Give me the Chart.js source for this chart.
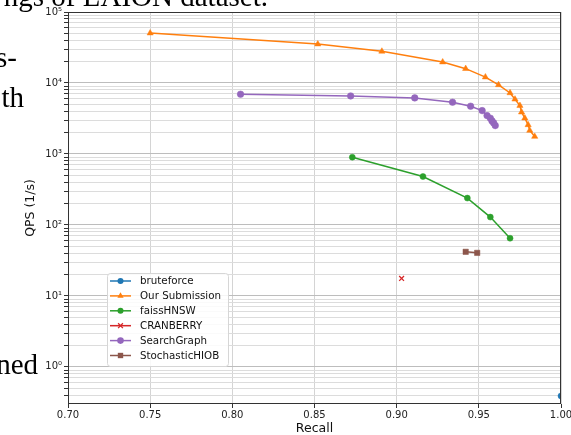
<!DOCTYPE html>
<html>
<head>
<meta charset="utf-8">
<script src="https://cdn.jsdelivr.net/npm/chart.js@4.4.0/dist/chart.umd.min.js"></script>
<style>
  html, body { margin: 0; padding: 0; background: #fff; overflow: hidden; }
  #wrap { position: relative; width: 571px; height: 435px; }
  .doc { position: absolute; font-family: "Liberation Serif", serif; font-size: 29px; line-height: 29px; color: #000; white-space: nowrap; }
</style>
</head>
<body>
<div id="wrap">
  <canvas id="mycanvas" width="571" height="435"></canvas>
  <div class="doc" style="right:303px; top:-18px;">ngs of LAION dataset.</div>
  <div class="doc" style="right:554px; top:43px;">s-</div>
  <div class="doc" style="right:547px; top:83px;">th</div>
  <div class="doc" style="right:533px; top:350px;">ned</div>
</div>
<script>
// values
var seriesNames = ["bruteforce", "Our Submission", "faissHNSW", "CRANBERRY", "SearchGraph", "StochasticHIOB"];
var seriesColors = ["#1f77b4", "#ff7f0e", "#2ca02c", "#d62728", "#9467bd", "#8c564b"];
var seriesMarkers = ["circle", "triangle", "circle", "crossRot", "circle", "rect"];
var markerSizes = [3, 3.6, 3, 3.4, 3.3, 3.8];

var bruteRecall = [1.0];
var bruteQps = [0.39];

var oursRecall = [0.750, 0.852, 0.891, 0.928, 0.942, 0.954, 0.962, 0.969, 0.972, 0.975, 0.976, 0.978, 0.980, 0.981, 0.984];
var oursQps = [50400, 35300, 27900, 19700, 15900, 12100, 9400, 7240, 5900, 4800, 3880, 3190, 2570, 2140, 1760];

var faissRecall = [0.873, 0.916, 0.943, 0.957, 0.969];
var faissQps = [900, 481, 239, 129, 65];

var cranRecall = [0.903];
var cranQps = [17.6];

var sgRecall = [0.805, 0.872, 0.911, 0.934, 0.945, 0.952, 0.955, 0.957, 0.958, 0.959, 0.960];
var sgQps = [6940, 6570, 6160, 5360, 4710, 4080, 3470, 3190, 2920, 2740, 2510];

var hiobRecall = [0.942, 0.949];
var hiobQps = [41.8, 40.4];

var xTickValues = [0.70, 0.75, 0.80, 0.85, 0.90, 0.95, 1.00];
var yTickValues = [1, 10, 100, 1000, 10000, 100000];
var yTickLabels = ["10\u2070", "10\u00b9", "10\u00b2", "10\u00b3", "10\u2074", "10\u2075"];

var allRecall = [bruteRecall, oursRecall, faissRecall, cranRecall, sgRecall, hiobRecall];
var allQps = [bruteQps, oursQps, faissQps, cranQps, sgQps, hiobQps];

function pairUp(xs, ys) {
    var pts = [];
    for (var i in xs) {
        pts.push({x: xs[i], y: ys[i]});
    }
    return pts;
}

var datasets = [];
for (var i in seriesNames) {
    datasets.push({
        label: seriesNames[i],
        data: pairUp(allRecall[i], allQps[i]),
        borderColor: seriesColors[i],
        backgroundColor: seriesColors[i],
        pointBorderColor: seriesColors[i],
        pointBackgroundColor: seriesColors[i],
        borderWidth: 1.5,
        pointStyle: seriesMarkers[i],
        pointRadius: markerSizes[i],
        pointBorderWidth: seriesMarkers[i] == "crossRot" ? 1.3 : 0.5,
        pointHoverRadius: markerSizes[i],
        fill: false,
        tension: 0
    });
}

// minor grid positions for the log axis
function logGridValues(min, max) {
    var vals = [];
    for (var e = -1; e <= 5; e++) {
        for (var m = 1; m <= 9; m++) {
            var v = m * Math.pow(10, e);
            if (v >= min && v <= max * 1.0001) vals.push(v);
        }
    }
    return vals;
}

function isDecade(v) {
    for (var i in yTickValues) {
        if (Math.abs(v - yTickValues[i]) / yTickValues[i] < 1e-6) return i;
    }
    return -1;
}

function drawMarker(ctx, style, x, y, r, color) {
    ctx.save();
    ctx.fillStyle = color;
    ctx.strokeStyle = color;
    ctx.lineWidth = 1.3;
    ctx.beginPath();
    if (style == "circle") {
        ctx.arc(x, y, r, 0, Math.PI * 2);
        ctx.fill();
    } else if (style == "triangle") {
        ctx.moveTo(x, y - r);
        ctx.lineTo(x + r * Math.sin(Math.PI / 3), y + r * 0.5);
        ctx.lineTo(x - r * Math.sin(Math.PI / 3), y + r * 0.5);
        ctx.closePath();
        ctx.fill();
    } else if (style == "rect") {
        var s = r * Math.SQRT1_2;
        ctx.rect(x - s, y - s, 2 * s, 2 * s);
        ctx.fill();
    } else if (style == "crossRot") {
        var d = r * Math.SQRT1_2;
        ctx.moveTo(x - d, y - d); ctx.lineTo(x + d, y + d);
        ctx.moveTo(x + d, y - d); ctx.lineTo(x - d, y + d);
        ctx.stroke();
    }
    ctx.restore();
}

var boxAndLegend = {
    id: "boxAndLegend",
    afterDatasetsDraw: function(chart) {
        var ctx = chart.ctx;
        var a = chart.chartArea;
        ctx.save();
        ctx.strokeStyle = "#333";
        ctx.lineWidth = 1;
        ctx.strokeRect(Math.round(a.left) + 0.5, Math.round(a.top) + 0.5, Math.round(a.right - a.left) - 1, Math.round(a.bottom - a.top) - 1);

        // legend
        var lx = 107, ly = 273, lw = 121, lh = 93;
        ctx.fillStyle = "rgba(255,255,255,0.85)";
        ctx.strokeStyle = "#d6d6d6";
        ctx.beginPath();
        ctx.roundRect(lx + 0.5, ly + 0.5, lw, lh, 3);
        ctx.fill();
        ctx.stroke();
        ctx.font = "10.3px 'DejaVu Sans'";
        ctx.textBaseline = "middle";
        ctx.textAlign = "left";
        var ds = chart.data.datasets;
        for (var i = 0; i < ds.length; i++) {
            var yy = 281 + i * 14.9;
            ctx.strokeStyle = ds[i].borderColor;
            ctx.lineWidth = 1.5;
            ctx.beginPath();
            ctx.moveTo(110, yy);
            ctx.lineTo(131, yy);
            ctx.stroke();
            drawMarker(ctx, ds[i].pointStyle, 120.5, yy, ds[i].pointRadius, ds[i].borderColor);
            ctx.fillStyle = "#111";
            ctx.fillText(ds[i].label, 140, yy + 0.5);
        }
        ctx.restore();
    }
};

var ctx = document.getElementById("mycanvas");

var qpsChart = new Chart(ctx, {
    type: "line",
    data: { datasets: datasets },
    plugins: [boxAndLegend],
    options: {
        responsive: false,
        animation: false,
        layout: { padding: { top: 12, right: 10, left: 0, bottom: 0 } },
        plugins: {
            legend: { display: false },
            tooltip: { enabled: false }
        },
        scales: {
            x: {
                type: "linear",
                min: 0.70,
                max: 1.00,
                afterBuildTicks: function(scale) {
                    scale.ticks = xTickValues.map(function(v) { return {value: v}; });
                },
                afterFit: function(scale) {
                    scale.height = 31;
                    scale.paddingLeft = 0;
                    scale.paddingRight = 0;
                },
                ticks: {
                    autoSkip: false,
                    maxRotation: 0,
                    padding: 1,
                    color: "#222",
                    font: { family: "DejaVu Sans", size: 10 },
                    callback: function(v) { return Number(v).toFixed(2); }
                },
                grid: {
                    color: "#d4d4d4",
                    lineWidth: 1,
                    tickLength: 4,
                    tickColor: "#333"
                },
                border: { display: false },
                title: {
                    display: true,
                    text: "Recall",
                    color: "#111",
                    font: { family: "DejaVu Sans", size: 12.5 },
                    padding: { top: 0, bottom: -1 }
                }
            },
            y: {
                type: "logarithmic",
                min: 0.312,
                max: 100000,
                afterBuildTicks: function(scale) {
                    scale.ticks = logGridValues(0.312, 100000).map(function(v) {
                        return {value: v, major: isDecade(v) >= 0};
                    });
                },
                afterFit: function(scale) {
                    scale.width = 68;
                    scale.paddingTop = 0;
                    scale.paddingBottom = 0;
                },
                ticks: {
                    autoSkip: false,
                    padding: 2,
                    color: "#222",
                    font: { family: "DejaVu Sans", size: 10 },
                    callback: function(v) {
                        var k = isDecade(v);
                        return k >= 0 ? yTickLabels[k] : "";
                    }
                },
                grid: {
                    color: function(c) {
                        return (c.tick && isDecade(c.tick.value) >= 0) ? "#bdbdbd" : "#dcdcdc";
                    },
                    lineWidth: 1,
                    tickLength: 4,
                    tickColor: "#333"
                },
                border: { display: false },
                title: {
                    display: true,
                    text: "QPS (1/s)",
                    color: "#111",
                    font: { family: "DejaVu Sans", size: 12.5 },
                    padding: { top: 23, bottom: 0 }
                }
            }
        }
    }
});
</script>
</body>
</html>
